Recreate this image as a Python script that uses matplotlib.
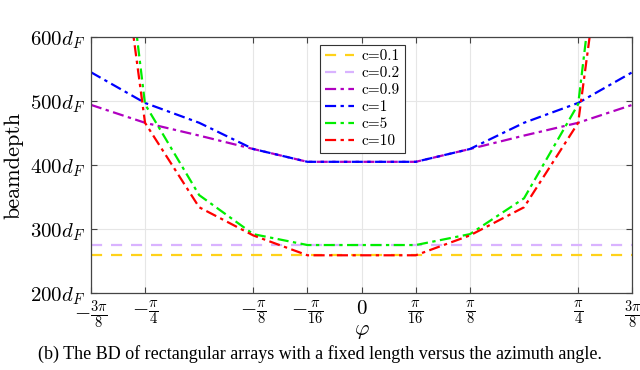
import matplotlib
matplotlib.use("Agg")
import matplotlib.pyplot as plt
import numpy as np

plt.rcParams['mathtext.fontset'] = 'cm'
plt.rcParams['font.family'] = ['DejaVu Serif']

# x positions (equally spaced sample points), tick labels at some of them
x_pos = [-5, -4, -3, -2, -1, 0, 1, 2, 3, 4, 5]
tick_pos = [-5, -4, -2, -1, 0, 1, 2, 4, 5]
tick_labels = [r'$-\frac{3\pi}{8}$', r'$-\frac{\pi}{4}$', r'$-\frac{\pi}{8}$', r'$-\frac{\pi}{16}$',
               r'$0$', r'$\frac{\pi}{16}$', r'$\frac{\pi}{8}$', r'$\frac{\pi}{4}$', r'$\frac{3\pi}{8}$']

c01 = [259] * 11
c02 = [275] * 11
c09 = [494, 466, 446, 425, 405, 405, 405, 425, 446, 466, 494]
c1 = [545, 497, 466, 425, 405, 405, 405, 425, 466, 497, 545]
c5 = [1200, 495, 353, 292, 275, 275, 275, 292, 348, 495, 1200]
c10 = [1100, 466, 334, 290, 259, 259, 259, 290, 334, 466, 1100]

series_labels = ['c=0.1', 'c=0.2', 'c=0.9', 'c=1', 'c=5', 'c=10']

y_ticks = [200, 300, 400, 500, 600]
y_labels = [r'$200d_F$', r'$300d_F$', r'$400d_F$', r'$500d_F$', r'$600d_F$']

fig = plt.figure(figsize=(6.4, 3.7), dpi=100)
ax = fig.add_axes([0.142, 0.208, 0.846, 0.692])

lw = 1.6
dd = (0, (5, 2, 1.5, 2))
ax.plot(x_pos, c01, color='#FFD21A', ls=(0, (5, 4)), lw=lw, label=series_labels[0])
ax.plot(x_pos, c02, color='#D9B3FF', ls=(0, (5, 4)), lw=lw, label=series_labels[1])
ax.plot(x_pos, c09, color='#B000C0', ls=dd, lw=lw, label=series_labels[2])
ax.plot(x_pos, c1, color='#0000FF', ls=dd, lw=lw, label=series_labels[3])
ax.plot(x_pos, c5, color='#00EE00', ls=dd, lw=lw, label=series_labels[4])
ax.plot(x_pos, c10, color='#FF0000', ls=dd, lw=lw, label=series_labels[5])

ax.set_xlim(-5, 5)
ax.set_ylim(200, 600)
ax.set_xticks(tick_pos)
ax.set_xticklabels(tick_labels, fontsize=15)
ax.set_yticks(y_ticks)
ax.set_yticklabels(y_labels, fontsize=15)
ax.grid(True, color='#E6E6E6', lw=0.8)
ax.set_axisbelow(True)
ax.tick_params(direction='in', top=True, right=True, length=4, color='#444444', pad=4)
for s in ax.spines.values():
    s.set_color('#444444')
    s.set_linewidth(0.9)

ax.set_ylabel('beamdepth', fontsize=16, family='cmr10', labelpad=2)
ax.yaxis.set_label_coords(-0.125, 0.5)
ax.set_xlabel(r'$\varphi$', fontsize=16, labelpad=-9)

leg = ax.legend(loc='upper left', bbox_to_anchor=(0.424, 0.97),
                prop={'family': 'cmr10', 'size': 11},
                frameon=True, fancybox=False, edgecolor='#333333', framealpha=1,
                handlelength=1.9, borderpad=0.3, labelspacing=0.22, handletextpad=0.5,
                borderaxespad=0)
leg.get_frame().set_linewidth(0.8)

fig.text(0.5, 0.042, '(b) The BD of rectangular arrays with a fixed length versus the azimuth angle.',
         ha='center', va='center', fontsize=13, family='Liberation Serif')

fig.savefig('out.png', dpi=100)
